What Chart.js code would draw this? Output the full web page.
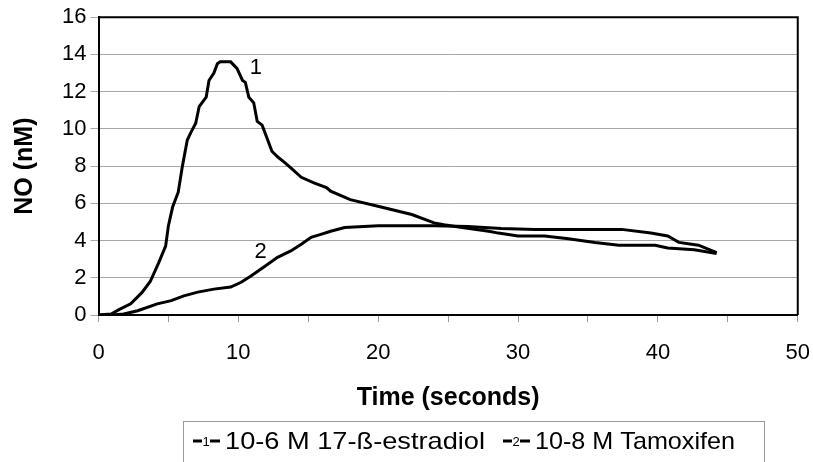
<!DOCTYPE html>
<html>
<head>
<meta charset="utf-8">
<script src="https://cdn.jsdelivr.net/npm/chart.js@4.4.0/dist/chart.umd.min.js"></script>
<style>
html,body{margin:0;padding:0;background:#fff;}
#wrap{width:813px;height:462px;position:relative;}
</style>
</head>
<body>
<div id="wrap"><canvas id="c" width="813" height="462"></canvas></div>
<script>
// ---- data ----
const seriesLabels = ["10-6 M 17-\u00DF-estradiol", "10-8 M Tamoxifen"];
const seriesMarks = ["1", "2"];
const estradiolTime = [0, 0.9, 1.5, 2.3, 3.1, 3.7, 4.3, 4.8, 5.0, 5.3, 5.7, 6.0, 6.35, 6.6, 6.95, 7.2, 7.7, 7.9, 8.25, 8.5, 8.7, 9.45, 9.9, 10.3, 10.5, 10.75, 11.1, 11.35, 11.7, 12.1, 12.4, 12.8, 13.3, 13.75, 14.5, 15.4, 16.3, 16.6, 18.0, 20.2, 22.4, 24.0, 24.7, 26.0, 27.9, 28.6, 30.0, 31.9, 33.6, 35.5, 37.2, 39.8, 40.7, 42.6, 44.2];
const estradiolNO   = [0, 0.05, 0.3, 0.6, 1.2, 1.8, 2.8, 3.7, 4.8, 5.8, 6.6, 8.0, 9.4, 9.8, 10.3, 11.2, 11.7, 12.6, 13.0, 13.5, 13.6, 13.6, 13.25, 12.6, 12.5, 11.7, 11.4, 10.4, 10.2, 9.4, 8.8, 8.5, 8.2, 7.9, 7.4, 7.1, 6.85, 6.65, 6.2, 5.8, 5.4, 4.95, 4.85, 4.7, 4.5, 4.4, 4.25, 4.25, 4.1, 3.9, 3.75, 3.75, 3.6, 3.5, 3.3];
const tamoxifenTime = [0, 1.0, 1.8, 2.8, 4.2, 5.2, 6.1, 7.1, 8.25, 9.45, 10.2, 10.9, 11.8, 12.8, 13.75, 14.5, 15.2, 15.9, 16.6, 17.6, 20, 24, 26.4, 28.8, 31.2, 37.4, 39.5, 40.7, 41.5, 42.9, 44.2];
const tamoxifenNO   = [0, 0, 0.05, 0.23, 0.6, 0.77, 1.03, 1.23, 1.39, 1.5, 1.76, 2.1, 2.57, 3.1, 3.44, 3.8, 4.17, 4.33, 4.5, 4.7, 4.8, 4.8, 4.75, 4.65, 4.6, 4.6, 4.4, 4.25, 3.9, 3.75, 3.35];
const xTicks = [0, 10, 20, 30, 40, 50];
const yTicks = [0, 2, 4, 6, 8, 10, 12, 14, 16];
const markPositions = [[11.25, 13.3], [11.6, 3.4]];

const FONT = "'Liberation Sans', Arial, sans-serif";
const toXY = (ts, vs) => ts.map((t, i) => ({x: t, y: vs[i]}));

const frame = {
  id: 'frame',
  afterDatasetsDraw(chart) {
    const {ctx, chartArea: a, scales} = chart;
    ctx.save();
    ctx.strokeStyle = '#000';
    ctx.lineWidth = 2;
    ctx.beginPath();
    ctx.moveTo(a.left, a.top); ctx.lineTo(a.right, a.top); ctx.lineTo(a.right, a.bottom);
    ctx.stroke();
    ctx.fillStyle = '#000';
    ctx.font = '22px ' + FONT;
    ctx.textAlign = 'center';
    ctx.textBaseline = 'middle';
    markPositions.forEach((p, i) => {
      ctx.fillText(seriesMarks[i], scales.x.getPixelForValue(p[0]), scales.y.getPixelForValue(p[1]));
    });
    ctx.restore();
  },
  afterDraw(chart) {
    const {ctx} = chart;
    ctx.save();
    ctx.strokeStyle = '#9a9a9a';
    ctx.lineWidth = 1;
    ctx.strokeRect(183.5, 421.5, 581, 60);
    const starts = [193, 503];
    const fitW = [260, 200];
    const cy = 441;
    seriesLabels.forEach((lab, i) => {
      const x0 = starts[i];
      ctx.strokeStyle = '#000';
      ctx.lineWidth = 3;
      ctx.beginPath(); ctx.moveTo(x0, cy); ctx.lineTo(x0 + 9, cy); ctx.stroke();
      ctx.font = '13px ' + FONT;
      ctx.fillStyle = '#000';
      ctx.textAlign = 'center'; ctx.textBaseline = 'middle';
      ctx.fillText(seriesMarks[i], x0 + 13, cy + 1);
      ctx.beginPath(); ctx.moveTo(x0 + 17, cy); ctx.lineTo(x0 + 27, cy); ctx.stroke();
      ctx.font = '24px ' + FONT;
      ctx.textAlign = 'left';
      const w = ctx.measureText(lab).width;
      ctx.save();
      ctx.translate(x0 + 32, cy + 1);
      ctx.scale(fitW[i] / w, 1);
      ctx.fillText(lab, 0, 0);
      ctx.restore();
    });
    ctx.restore();
  }
};

new Chart(document.getElementById('c'), {
  type: 'line',
  data: {
    datasets: [
      {label: seriesLabels[0], data: toXY(estradiolTime, estradiolNO), borderColor: '#000', borderWidth: 3, pointRadius: 0, tension: 0, fill: false},
      {label: seriesLabels[1], data: toXY(tamoxifenTime, tamoxifenNO), borderColor: '#000', borderWidth: 3, pointRadius: 0, tension: 0, fill: false}
    ]
  },
  options: {
    responsive: false,
    animation: false,
    events: [],
    layout: {padding: {left: 10, right: 15, top: 15, bottom: 49}},
    plugins: {legend: {display: false}, tooltip: {enabled: false}},
    scales: {
      x: {
        type: 'linear', min: 0, max: 50,
        afterFit(s) { s.height = 98; },
        ticks: {stepSize: 5, padding: 3, color: '#000', font: {family: FONT, size: 22, lineHeight: 2.5},
          autoSkip: false, maxRotation: 0,
          callback: v => xTicks.includes(v) ? String(v) : ''},
        grid: {drawOnChartArea: false, color: '#999', tickLength: 7, lineWidth: 1},
        border: {color: '#000', width: 2},
        title: {display: true, text: 'Time (seconds)', color: '#000', font: {family: FONT, size: 25, weight: 'bold'}, padding: 0}
      },
      y: {
        min: 0, max: 16,
        afterFit(s) { s.width = 88.5; },
        ticks: {stepSize: 2, padding: 4, color: '#000', font: {family: FONT, size: 22},
          callback: v => yTicks.includes(v) ? String(v) : ''},
        grid: {color: '#a8a8a8', tickLength: 8, lineWidth: 1},
        border: {color: '#000', width: 2},
        title: {display: true, text: 'NO (nM)', color: '#000', font: {family: FONT, size: 25, weight: 'bold'}, padding: 0}
      }
    }
  },
  plugins: [frame]
});
</script>
</body>
</html>
